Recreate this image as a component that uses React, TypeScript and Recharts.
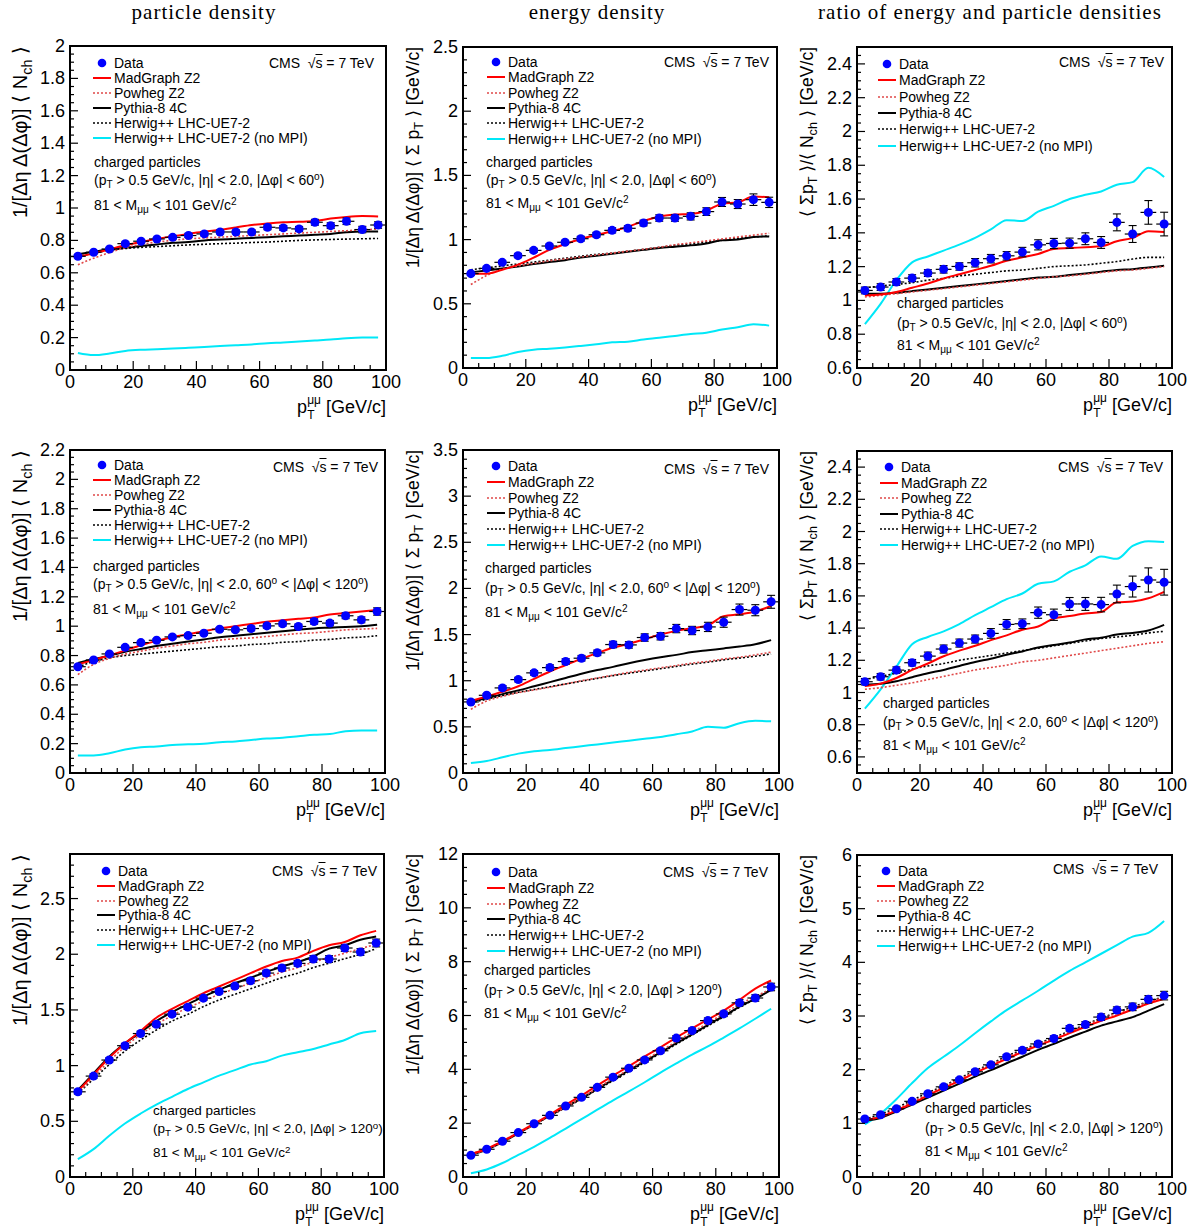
import React from 'react'
import { ComposedChart, Line, Scatter, ErrorBar, XAxis, YAxis } from 'recharts'

const FONT = '"Liberation Sans", Arial, Helvetica, sans-serif'

// dimuon pT bin centres [GeV/c]
const ptBins = [2.5, 7.5, 12.5, 17.5, 22.5, 27.5, 32.5, 37.5, 42.5, 47.5, 52.5, 57.5, 62.5, 67.5, 72.5, 77.5, 82.5, 87.5, 92.5, 97.5]
const xTicks = [0, 5, 10, 15, 20, 25, 30, 35, 40, 45, 50, 55, 60, 65, 70, 75, 80, 85, 90, 95, 100]
const xLabels = [0, 20, 40, 60, 80, 100]

// ---- towards region (|dphi| < 60) ----
const nTowData = [0.702, 0.727, 0.747, 0.78, 0.795, 0.809, 0.819, 0.83, 0.84, 0.852, 0.852, 0.852, 0.881, 0.877, 0.871, 0.912, 0.891, 0.918, 0.867, 0.895]
const nTowErr = [0.01, 0.01, 0.01, 0.01, 0.01, 0.01, 0.01, 0.012, 0.012, 0.012, 0.012, 0.012, 0.015, 0.015, 0.015, 0.018, 0.018, 0.02, 0.02, 0.02]
const nTowMg = [0.7, 0.72, 0.745, 0.77, 0.79, 0.81, 0.825, 0.84, 0.855, 0.865, 0.88, 0.895, 0.905, 0.912, 0.915, 0.92, 0.935, 0.945, 0.95, 0.948]
const nTowPw = [0.65, 0.69, 0.725, 0.755, 0.775, 0.79, 0.8, 0.81, 0.815, 0.82, 0.825, 0.83, 0.835, 0.84, 0.845, 0.85, 0.855, 0.86, 0.865, 0.87]
const nTowPy = [0.715, 0.73, 0.745, 0.755, 0.765, 0.775, 0.785, 0.79, 0.8, 0.805, 0.81, 0.815, 0.82, 0.825, 0.83, 0.835, 0.84, 0.85, 0.855, 0.855]
const nTowHw = [0.7, 0.72, 0.74, 0.75, 0.757, 0.762, 0.767, 0.772, 0.776, 0.78, 0.783, 0.787, 0.79, 0.795, 0.8, 0.803, 0.806, 0.808, 0.81, 0.812]
const nTowNoMpi = [0.105, 0.092, 0.102, 0.118, 0.125, 0.128, 0.132, 0.137, 0.142, 0.148, 0.153, 0.158, 0.165, 0.17, 0.176, 0.182, 0.188, 0.196, 0.2, 0.2]

const eTowData = [0.735, 0.776, 0.823, 0.875, 0.916, 0.95, 0.979, 1.007, 1.038, 1.072, 1.088, 1.129, 1.168, 1.168, 1.181, 1.218, 1.293, 1.277, 1.311, 1.29]
const eTowErr = [0.01, 0.01, 0.012, 0.015, 0.015, 0.015, 0.015, 0.018, 0.018, 0.02, 0.02, 0.022, 0.025, 0.025, 0.028, 0.03, 0.035, 0.035, 0.045, 0.04]
const eTowMg = [0.735, 0.735, 0.765, 0.805, 0.86, 0.92, 0.965, 1.005, 1.035, 1.065, 1.1, 1.145, 1.18, 1.195, 1.2, 1.225, 1.28, 1.29, 1.335, 1.33]
const eTowPw = [0.65, 0.72, 0.77, 0.795, 0.815, 0.835, 0.85, 0.865, 0.88, 0.895, 0.91, 0.925, 0.94, 0.96, 0.975, 0.99, 1.005, 1.02, 1.035, 1.05]
const eTowPy = [0.745, 0.76, 0.775, 0.79, 0.81, 0.825, 0.84, 0.86, 0.875, 0.89, 0.905, 0.92, 0.935, 0.945, 0.955, 0.97, 0.995, 1.0, 1.02, 1.025]
const eTowHw = [0.765, 0.78, 0.795, 0.81, 0.825, 0.84, 0.855, 0.87, 0.885, 0.895, 0.91, 0.925, 0.94, 0.955, 0.965, 0.98, 0.995, 1.01, 1.02, 1.03]
const eTowNoMpi = [0.078, 0.078, 0.095, 0.125, 0.143, 0.15, 0.16, 0.172, 0.185, 0.2, 0.205, 0.222, 0.235, 0.25, 0.265, 0.275, 0.3, 0.318, 0.34, 0.33]

const rTowData = [1.059, 1.079, 1.109, 1.132, 1.162, 1.184, 1.201, 1.223, 1.247, 1.264, 1.286, 1.329, 1.337, 1.339, 1.365, 1.343, 1.462, 1.393, 1.521, 1.452]
const rTowErr = [0.02, 0.02, 0.02, 0.02, 0.02, 0.022, 0.022, 0.025, 0.025, 0.025, 0.028, 0.03, 0.03, 0.03, 0.035, 0.035, 0.05, 0.05, 0.07, 0.07]
const rTowMg = [1.03, 1.035, 1.05, 1.075, 1.1, 1.13, 1.155, 1.18, 1.205, 1.235, 1.255, 1.275, 1.305, 1.31, 1.315, 1.32, 1.35, 1.37, 1.41, 1.405]
const rTowPw = [1.02, 1.03, 1.04, 1.05, 1.06, 1.07, 1.08, 1.09, 1.1, 1.11, 1.12, 1.13, 1.14, 1.145, 1.155, 1.165, 1.175, 1.18, 1.19, 1.2]
const rTowPy = [1.04, 1.04, 1.045, 1.055, 1.065, 1.075, 1.085, 1.095, 1.105, 1.115, 1.125, 1.135, 1.14, 1.15, 1.16, 1.17, 1.18, 1.185, 1.195, 1.205]
const rTowHw = [1.075, 1.085, 1.095, 1.105, 1.12, 1.13, 1.145, 1.155, 1.165, 1.175, 1.18, 1.19, 1.2, 1.205, 1.21, 1.22, 1.23, 1.245, 1.255, 1.255]
const rTowNoMpi = [0.86, 0.98, 1.12, 1.225, 1.26, 1.295, 1.33, 1.37, 1.42, 1.475, 1.47, 1.525, 1.56, 1.6, 1.625, 1.645, 1.685, 1.7, 1.785, 1.73]

// ---- transverse region (60 < |dphi| < 120) ----
const nTrData = [0.724, 0.77, 0.811, 0.856, 0.888, 0.904, 0.927, 0.936, 0.952, 0.979, 0.975, 0.984, 1.002, 1.016, 0.998, 1.032, 1.021, 1.071, 1.043, 1.1]
const nTrErr = [0.01, 0.01, 0.01, 0.01, 0.01, 0.01, 0.012, 0.012, 0.012, 0.012, 0.012, 0.015, 0.015, 0.015, 0.015, 0.018, 0.018, 0.02, 0.02, 0.025]
const nTrMg = [0.74, 0.77, 0.8, 0.835, 0.87, 0.9, 0.925, 0.945, 0.965, 0.985, 1.0, 1.015, 1.03, 1.04, 1.05, 1.06, 1.08, 1.09, 1.1, 1.11]
const nTrPw = [0.67, 0.74, 0.78, 0.81, 0.83, 0.85, 0.865, 0.88, 0.89, 0.905, 0.915, 0.92, 0.93, 0.94, 0.95, 0.955, 0.965, 0.975, 0.98, 0.985]
const nTrPy = [0.75, 0.775, 0.8, 0.825, 0.845, 0.865, 0.88, 0.895, 0.91, 0.925, 0.935, 0.945, 0.955, 0.965, 0.975, 0.985, 0.99, 0.995, 1.0, 1.01]
const nTrHw = [0.72, 0.76, 0.785, 0.8, 0.81, 0.82, 0.83, 0.84, 0.85, 0.86, 0.865, 0.875, 0.88, 0.89, 0.895, 0.905, 0.91, 0.92, 0.925, 0.935]
const nTrNoMpi = [0.12, 0.12, 0.135, 0.16, 0.175, 0.18, 0.19, 0.195, 0.2, 0.21, 0.215, 0.225, 0.235, 0.24, 0.25, 0.26, 0.265, 0.285, 0.29, 0.29]

const eTrData = [0.77, 0.842, 0.922, 1.012, 1.085, 1.142, 1.208, 1.244, 1.302, 1.392, 1.388, 1.468, 1.482, 1.565, 1.544, 1.583, 1.634, 1.771, 1.764, 1.855]
const eTrErr = [0.02, 0.02, 0.025, 0.025, 0.025, 0.03, 0.03, 0.03, 0.03, 0.035, 0.035, 0.04, 0.04, 0.045, 0.045, 0.05, 0.055, 0.06, 0.06, 0.07]
const eTrMg = [0.78, 0.83, 0.88, 0.94, 1.02, 1.1, 1.17, 1.24, 1.3, 1.36, 1.4, 1.45, 1.5, 1.54, 1.57, 1.6, 1.7, 1.72, 1.75, 1.81]
const eTrPw = [0.69, 0.78, 0.83, 0.87, 0.9, 0.93, 0.965, 1.0, 1.03, 1.06, 1.09, 1.115, 1.14, 1.165, 1.19, 1.21, 1.235, 1.255, 1.28, 1.31]
const eTrPy = [0.78, 0.81, 0.855, 0.895, 0.94, 0.985, 1.03, 1.075, 1.115, 1.15, 1.19, 1.225, 1.255, 1.28, 1.31, 1.33, 1.35, 1.37, 1.395, 1.44]
const eTrHw = [0.76, 0.8, 0.84, 0.875, 0.905, 0.935, 0.965, 0.995, 1.025, 1.055, 1.08, 1.105, 1.13, 1.155, 1.18, 1.2, 1.225, 1.245, 1.265, 1.29]
const eTrNoMpi = [0.108, 0.13, 0.17, 0.21, 0.235, 0.25, 0.27, 0.29, 0.31, 0.33, 0.35, 0.37, 0.39, 0.42, 0.45, 0.5, 0.49, 0.54, 0.565, 0.56]

const rTrData = [1.067, 1.098, 1.139, 1.185, 1.226, 1.27, 1.307, 1.332, 1.367, 1.423, 1.427, 1.496, 1.483, 1.55, 1.55, 1.546, 1.612, 1.658, 1.699, 1.685]
const rTrErr = [0.02, 0.02, 0.02, 0.02, 0.025, 0.025, 0.025, 0.025, 0.03, 0.03, 0.03, 0.035, 0.035, 0.04, 0.04, 0.045, 0.055, 0.065, 0.075, 0.08]
const rTrMg = [1.04, 1.055, 1.09, 1.14, 1.18, 1.225, 1.26, 1.29, 1.325, 1.355, 1.39, 1.41, 1.46, 1.475, 1.49, 1.5, 1.56, 1.565, 1.585, 1.625]
const rTrPw = [1.02, 1.03, 1.045, 1.06, 1.08, 1.1, 1.12, 1.14, 1.155, 1.17, 1.19, 1.2, 1.215, 1.23, 1.245, 1.26, 1.275, 1.29, 1.305, 1.315]
const rTrPy = [1.05, 1.055, 1.07, 1.095, 1.12, 1.14, 1.165, 1.19, 1.21, 1.235, 1.255, 1.28, 1.295, 1.31, 1.33, 1.34, 1.36, 1.37, 1.385, 1.42]
const rTrHw = [1.08, 1.1, 1.12, 1.145, 1.165, 1.18, 1.2, 1.215, 1.23, 1.245, 1.26, 1.275, 1.29, 1.305, 1.32, 1.335, 1.345, 1.355, 1.37, 1.38]
const rTrNoMpi = [0.9, 1.02, 1.16, 1.3, 1.345, 1.38, 1.425, 1.48, 1.53, 1.58, 1.615, 1.675, 1.69, 1.75, 1.79, 1.845, 1.83, 1.91, 1.94, 1.935]

// ---- away region (|dphi| > 120) ----
const nAwData = [0.765, 0.906, 1.05, 1.179, 1.288, 1.372, 1.462, 1.525, 1.606, 1.666, 1.714, 1.762, 1.831, 1.876, 1.918, 1.957, 1.957, 2.056, 2.02, 2.101]
const nAwErr = [0.02, 0.02, 0.02, 0.02, 0.02, 0.02, 0.02, 0.02, 0.02, 0.02, 0.02, 0.025, 0.025, 0.025, 0.025, 0.03, 0.03, 0.03, 0.03, 0.035]
const nAwMg = [0.77, 0.92, 1.07, 1.2, 1.31, 1.43, 1.51, 1.58, 1.65, 1.71, 1.77, 1.83, 1.89, 1.94, 1.97, 2.03, 2.08, 2.11, 2.17, 2.21]
const nAwPw = [0.75, 0.9, 1.04, 1.17, 1.28, 1.37, 1.45, 1.52, 1.58, 1.64, 1.69, 1.74, 1.79, 1.84, 1.88, 1.93, 1.97, 2.01, 2.05, 2.09]
const nAwPy = [0.78, 0.93, 1.08, 1.2, 1.3, 1.4, 1.48, 1.55, 1.62, 1.68, 1.74, 1.79, 1.84, 1.89, 1.93, 1.98, 2.05, 2.08, 2.13, 2.16]
const nAwHw = [0.75, 0.88, 1.01, 1.13, 1.23, 1.32, 1.4, 1.46, 1.53, 1.59, 1.64, 1.69, 1.74, 1.79, 1.83, 1.88, 1.92, 1.96, 2.0, 2.05]
const nAwNoMpi = [0.16, 0.25, 0.37, 0.48, 0.57, 0.65, 0.72, 0.79, 0.85, 0.91, 0.96, 1.01, 1.04, 1.09, 1.12, 1.15, 1.19, 1.23, 1.29, 1.31]

const eAwData = [0.81, 1.03, 1.33, 1.65, 1.98, 2.29, 2.64, 2.96, 3.33, 3.71, 4.04, 4.35, 4.69, 5.16, 5.44, 5.81, 6.06, 6.47, 6.65, 7.06]
const eAwErr = [0.03, 0.03, 0.04, 0.04, 0.05, 0.05, 0.05, 0.06, 0.06, 0.07, 0.07, 0.08, 0.08, 0.09, 0.09, 0.1, 0.1, 0.12, 0.12, 0.14]
const eAwMg = [0.85, 1.05, 1.33, 1.65, 1.98, 2.32, 2.68, 3.03, 3.4, 3.77, 4.12, 4.48, 4.82, 5.18, 5.52, 5.85, 6.18, 6.58, 7.0, 7.3]
const eAwPw = [0.82, 1.02, 1.3, 1.62, 1.94, 2.27, 2.6, 2.94, 3.3, 3.66, 4.0, 4.35, 4.69, 5.03, 5.38, 5.72, 6.07, 6.42, 6.7, 7.0]
const eAwPy = [0.82, 1.02, 1.3, 1.62, 1.95, 2.28, 2.6, 2.92, 3.27, 3.62, 3.96, 4.3, 4.63, 4.97, 5.3, 5.65, 5.98, 6.33, 6.62, 6.95]
const eAwHw = [0.85, 1.05, 1.32, 1.63, 1.95, 2.27, 2.58, 2.9, 3.25, 3.58, 3.92, 4.26, 4.6, 4.93, 5.27, 5.61, 5.95, 6.3, 6.62, 6.98]
const eAwNoMpi = [0.14, 0.28, 0.52, 0.82, 1.12, 1.45, 1.8, 2.15, 2.5, 2.85, 3.18, 3.52, 3.88, 4.22, 4.55, 4.85, 5.18, 5.52, 5.88, 6.25]

const rAwData = [1.08, 1.16, 1.27, 1.41, 1.55, 1.68, 1.81, 1.96, 2.09, 2.24, 2.36, 2.48, 2.58, 2.77, 2.84, 2.98, 3.11, 3.17, 3.31, 3.38]
const rAwErr = [0.03, 0.03, 0.03, 0.03, 0.03, 0.035, 0.035, 0.04, 0.04, 0.04, 0.045, 0.045, 0.05, 0.05, 0.055, 0.06, 0.06, 0.07, 0.07, 0.08]
const rAwMg = [1.06, 1.12, 1.24, 1.37, 1.52, 1.66, 1.79, 1.94, 2.07, 2.2, 2.33, 2.45, 2.56, 2.68, 2.8, 2.91, 3.01, 3.12, 3.23, 3.32]
const rAwPw = [1.07, 1.14, 1.26, 1.4, 1.54, 1.68, 1.82, 1.96, 2.09, 2.23, 2.35, 2.47, 2.58, 2.7, 2.82, 2.94, 3.05, 3.15, 3.26, 3.35]
const rAwPy = [1.05, 1.1, 1.22, 1.35, 1.48, 1.61, 1.74, 1.87, 1.99, 2.12, 2.24, 2.37, 2.48, 2.6, 2.71, 2.82, 2.9, 2.98, 3.1, 3.22]
const rAwHw = [1.08, 1.17, 1.29, 1.43, 1.57, 1.7, 1.84, 1.98, 2.11, 2.25, 2.37, 2.49, 2.6, 2.72, 2.84, 2.96, 3.07, 3.17, 3.27, 3.36]
const rAwNoMpi = [0.98, 1.18, 1.45, 1.75, 2.03, 2.24, 2.45, 2.68, 2.9, 3.11, 3.29, 3.47, 3.66, 3.84, 4.0, 4.16, 4.32, 4.48, 4.55, 4.77]

// y tick labels
const yLabN1 = [0, 0.2, 0.4, 0.6, 0.8, 1, 1.2, 1.4, 1.6, 1.8, 2]
const yLabE1 = [0, 0.5, 1, 1.5, 2, 2.5]
const yLabR1 = [0.6, 0.8, 1, 1.2, 1.4, 1.6, 1.8, 2, 2.2, 2.4]
const yLabN2 = [0, 0.2, 0.4, 0.6, 0.8, 1, 1.2, 1.4, 1.6, 1.8, 2, 2.2]
const yLabE2 = [0, 0.5, 1, 1.5, 2, 2.5, 3, 3.5]
const yLabR2 = [0.6, 0.8, 1, 1.2, 1.4, 1.6, 1.8, 2, 2.2, 2.4]
const yLabN3 = [0, 0.5, 1, 1.5, 2, 2.5]
const yLabE3 = [0, 2, 4, 6, 8, 10, 12]
const yLabR3 = [0, 1, 2, 3, 4, 5, 6]

const headers = ['particle density', 'energy density', 'ratio of energy and particle densities']
const legendNames = ['Data', 'MadGraph Z2', 'Powheg Z2', 'Pythia-8 4C', 'Herwig++ LHC-UE7-2', 'Herwig++ LHC-UE7-2 (no MPI)']

const C_MG = '#ff0000'
const C_PW = '#e04848'
const C_CY = '#00e8f8'

const Sub = ({ children }: any) => (
  <span style={{ fontSize: '0.72em', position: 'relative', top: '0.32em' }}>{children}</span>
)
const Sup = ({ children }: any) => (
  <span style={{ fontSize: '0.72em', position: 'relative', top: '-0.45em' }}>{children}</span>
)

function regionText(region: string) {
  if (region === 'tow')
    return <>(p<Sub>T</Sub> &gt; 0.5 GeV/c, |η| &lt; 2.0, |Δφ| &lt; 60<Sup>o</Sup>)</>
  if (region === 'tr')
    return <>(p<Sub>T</Sub> &gt; 0.5 GeV/c, |η| &lt; 2.0, 60<Sup>o</Sup> &lt; |Δφ| &lt; 120<Sup>o</Sup>)</>
  return <>(p<Sub>T</Sub> &gt; 0.5 GeV/c, |η| &lt; 2.0, |Δφ| &gt; 120<Sup>o</Sup>)</>
}

// y-axis title text and its font size per quantity
const yTitleSize: Record<string, number> = { n: 20, e: 17.5, r: 17.5 }
function yTitleText(kind: string) {
  if (kind === 'n') return <>1/[Δη Δ(Δφ)] ⟨ N<Sub>ch</Sub> ⟩</>
  if (kind === 'e') return <>1/[Δη Δ(Δφ)] ⟨ Σ p<Sub>T</Sub> ⟩ [GeV/c]</>
  return <>⟨ Σp<Sub>T</Sub> ⟩/⟨ N<Sub>ch</Sub> ⟩ [GeV/c]</>
}

function makeRows(d: number[], e: number[], mg: number[], pw: number[], py: number[], hw: number[], nm: number[]) {
  return ptBins.map((x, i) => ({ x, data: d[i], ex: 2.5, ey: e[i], mg: mg[i], pw: pw[i], py: py[i], hw: hw[i], nm: nm[i] }))
}

const panels = [
  { frame: [70, 46, 386, 370], dom: [0, 2], labels: yLabN1, minor: 0.05, kind: 'n', region: 'tow', rows: makeRows(nTowData, nTowErr, nTowMg, nTowPw, nTowPy, nTowHw, nTowNoMpi), leg: [23, 17, 15], cms: [12, 17], info: [24, 116, 134, 159, 14] },
  { frame: [463, 47, 777, 368], dom: [0, 2.5], labels: yLabE1, minor: 0.1, kind: 'e', region: 'tow', rows: makeRows(eTowData, eTowErr, eTowMg, eTowPw, eTowPy, eTowHw, eTowNoMpi), leg: [24, 15, 15.3], cms: [8, 15], info: [23, 115, 133, 156, 14] },
  { frame: [857, 47, 1172, 368], dom: [0.6, 2.5], labels: yLabR1, minor: 0.05, kind: 'r', region: 'tow', rows: makeRows(rTowData, rTowErr, rTowMg, rTowPw, rTowPy, rTowHw, rTowNoMpi), leg: [21, 17, 16.3], cms: [8, 15], info: [40, 256, 276, 298, 14] },
  { frame: [70, 450, 385, 773], dom: [0, 2.2], labels: yLabN2, minor: 0.05, kind: 'n', region: 'tr', rows: makeRows(nTrData, nTrErr, nTrMg, nTrPw, nTrPy, nTrHw, nTrNoMpi), leg: [23, 15, 15], cms: [7, 17], info: [23, 116, 134, 159, 14] },
  { frame: [463, 450, 779, 773], dom: [0, 3.5], labels: yLabE2, minor: 0.1, kind: 'e', region: 'tr', rows: makeRows(eTrData, eTrErr, eTrMg, eTrPw, eTrPy, eTrHw, eTrNoMpi), leg: [24, 16, 15.8], cms: [10, 19], info: [22, 118, 138, 162, 14] },
  { frame: [857, 451, 1172, 773], dom: [0.5, 2.5], labels: yLabR2, minor: 0.05, kind: 'r', region: 'tr', rows: makeRows(rTrData, rTrErr, rTrMg, rTrPw, rTrPy, rTrHw, rTrNoMpi), leg: [23, 16, 15.6], cms: [9, 16], info: [26, 252, 271, 294, 14] },
  { frame: [70, 854, 384, 1177], dom: [0, 2.9], labels: yLabN3, minor: 0.1, kind: 'n', region: 'aw', rows: makeRows(nAwData, nAwErr, nAwMg, nAwPw, nAwPy, nAwHw, nAwNoMpi), leg: [27, 17, 14.8], cms: [7, 17], info: [83, 257, 275, 299, 13.5] },
  { frame: [463, 854, 779, 1177], dom: [0, 12], labels: yLabE3, minor: 0.5, kind: 'e', region: 'aw', rows: makeRows(eAwData, eAwErr, eAwMg, eAwPw, eAwPy, eAwHw, eAwNoMpi), leg: [24, 18, 15.8], cms: [11, 18], info: [21, 116, 136, 159, 14] },
  { frame: [857, 855, 1172, 1177], dom: [0, 6], labels: yLabR3, minor: 0.2, kind: 'r', region: 'aw', rows: makeRows(rAwData, rAwErr, rAwMg, rAwPw, rAwPy, rAwHw, rAwNoMpi), leg: [20, 16, 15], cms: [14, 14], info: [68, 253, 273, 296, 14] },
]

const fmt = (v: number) => String(Math.round(v * 100) / 100)

const XTick = (props: any) => {
  const { x, y, payload } = props
  const v = payload.value
  const major = xLabels.includes(v)
  return (
    <g>
      <line x1={x} x2={x} y1={y} y2={y - (major ? 9 : 5)} stroke="#000" strokeWidth={1.2} />
      {major && (
        <text x={x} y={y + 12} textAnchor="middle" dominantBaseline="central" fontSize={18} fill="#000">
          {fmt(v)}
        </text>
      )}
    </g>
  )
}

const YTick = (props: any) => {
  const { x, y, payload, labels } = props
  const v = payload.value
  const major = labels.some((l: number) => Math.abs(l - v) < 1e-6)
  return (
    <g>
      <line x1={x} x2={x + (major ? 8 : 4)} y1={y} y2={y} stroke="#000" strokeWidth={1.2} />
      {major && (
        <text x={x - 5} y={y} textAnchor="end" dominantBaseline="central" fontSize={18} fill="#000">
          {fmt(v)}
        </text>
      )}
    </g>
  )
}

function yTickValues(dom: number[], step: number) {
  const n = Math.round((dom[1] - dom[0]) / step)
  const out: number[] = []
  for (let i = 0; i <= n; i++) out.push(Math.round((dom[0] + i * step) * 10000) / 10000)
  return out
}

const abs = (left: number, top: number, extra: any = {}) => ({ position: 'absolute' as const, left, top, whiteSpace: 'nowrap' as const, ...extra })

function LegendSymbol({ i }: { i: number }) {
  const styles = [
    null,
    { stroke: C_MG, dash: undefined, w: 2 },
    { stroke: C_PW, dash: '2 2', w: 1.6 },
    { stroke: '#000', dash: undefined, w: 2 },
    { stroke: '#000', dash: '2 2', w: 1.6 },
    { stroke: C_CY, dash: undefined, w: 2 },
  ]
  const s = styles[i]
  return (
    <svg width={18} height={10} style={{ position: 'absolute', left: 0, top: 3 }}>
      {s ? (
        <line x1={0} x2={18} y1={5} y2={5} stroke={s.stroke} strokeWidth={s.w} strokeDasharray={s.dash} />
      ) : (
        <circle cx={9} cy={5} r={4.3} fill="#0000ff" />
      )}
    </svg>
  )
}

function Panel({ p }: { p: any }) {
  const [x0, y0, x1, y1] = p.frame
  const pw = x1 - x0
  const ph = y1 - y0
  const ML = 60
  const MT = 10
  const MR = 25
  const MB = 40
  const yTicks = yTickValues(p.dom, p.minor)
  const [lx, ly, lg] = p.leg
  const [ix, i1, i2, i3, fs] = p.info
  return (
    <>
      <div style={abs(x0 - ML, y0 - MT)}>
        <ComposedChart width={pw + ML + MR} height={ph + MT + MB} data={p.rows} margin={{ top: MT, right: MR, bottom: 0, left: 0 }}>
          <XAxis dataKey="x" type="number" domain={[0, 100]} ticks={xTicks} interval={0} tick={(t: any) => <XTick {...t} />} tickLine={false} axisLine={false} tickSize={0} tickMargin={0} height={MB} allowDataOverflow />
          <YAxis type="number" domain={p.dom} ticks={yTicks} interval={0} tick={(t: any) => <YTick {...t} labels={p.labels} />} tickLine={false} axisLine={false} tickSize={0} tickMargin={0} width={ML} allowDataOverflow />
          <Line dataKey="nm" type="monotone" stroke={C_CY} strokeWidth={2} dot={false} activeDot={false} isAnimationActive={false} />
          <Line dataKey="hw" type="monotone" stroke="#000" strokeWidth={1.6} strokeDasharray="2 2" dot={false} activeDot={false} isAnimationActive={false} />
          <Line dataKey="py" type="monotone" stroke="#000" strokeWidth={2} dot={false} activeDot={false} isAnimationActive={false} />
          <Line dataKey="pw" type="monotone" stroke={C_PW} strokeWidth={1.6} strokeDasharray="2 2" dot={false} activeDot={false} isAnimationActive={false} />
          <Line dataKey="mg" type="monotone" stroke={C_MG} strokeWidth={2} dot={false} activeDot={false} isAnimationActive={false} />
          <Scatter dataKey="data" fill="#0000ff" isAnimationActive={false}>
            <ErrorBar dataKey="ex" direction="x" width={0} stroke="#000" strokeWidth={1.2} />
            <ErrorBar dataKey="ey" direction="y" width={4} stroke="#000" strokeWidth={1.1} />
          </Scatter>
        </ComposedChart>
      </div>
      <div style={abs(x0 - 1, y0 - 1, { width: pw + 2, height: ph + 2, border: '2px solid #000', boxSizing: 'border-box', pointerEvents: 'none' })} />
      {legendNames.map((name, i) => (
        <div key={name} style={abs(x0 + lx, y0 + ly + i * lg - 8, { height: 16, lineHeight: '16px', fontSize: 14, paddingLeft: 21 })}>
          <LegendSymbol i={i} />
          {name}
        </div>
      ))}
      <div style={abs(x1 - p.cms[0] - 200, y0 + p.cms[1] - 8, { width: 200, textAlign: 'right', lineHeight: '16px', fontSize: 14 })}>
        CMS&nbsp;&nbsp;√<span style={{ textDecoration: 'overline' }}>s</span> = 7 TeV
      </div>
      <div style={abs(x0 + ix, y0 + i1 - 8, { lineHeight: '16px', fontSize: fs })}>charged particles</div>
      <div style={abs(x0 + ix, y0 + i2 - 8, { lineHeight: '16px', fontSize: fs })}>{regionText(p.region)}</div>
      <div style={abs(x0 + ix, y0 + i3 - 8, { lineHeight: '16px', fontSize: fs })}>
        81 &lt; M<Sub>μμ</Sub> &lt; 101 GeV/c<Sup>2</Sup>
      </div>
      <div style={abs(x0 - 50 - 12, y0 + 320, { width: 320, height: 24, lineHeight: '24px', textAlign: 'right', fontSize: yTitleSize[p.kind], transform: 'rotate(-90deg)', transformOrigin: '0 0' })}>
        {yTitleText(p.kind)}
      </div>
      <div style={abs(x1 - 200, y1 + 35 - 12, { width: 200, textAlign: 'right', lineHeight: '24px', fontSize: 18 })}>
        p
        <span style={{ display: 'inline-flex', flexDirection: 'column', fontSize: 12, lineHeight: '15px', verticalAlign: 'middle', textAlign: 'left' }}>
          <span>μμ</span>
          <span>T</span>
        </span>{' '}
        [GeV/c]
      </div>
    </>
  )
}

export default function App() {
  const headerX = [204, 597, 990]
  return (
    <div style={{ position: 'absolute', left: 0, top: 0, width: 1202, height: 1229, background: '#fff', fontFamily: FONT, color: '#000', overflow: 'hidden' }}>
      {headers.map((h, i) => (
        <div key={h} style={abs(headerX[i] - 250, 0, { width: 500, textAlign: 'center', fontFamily: '"Liberation Serif", "DejaVu Serif", serif', fontSize: 21, lineHeight: '24px', letterSpacing: '1px' })}>
          {h}
        </div>
      ))}
      {panels.map((p, i) => (
        <Panel key={i} p={p} />
      ))}
    </div>
  )
}
